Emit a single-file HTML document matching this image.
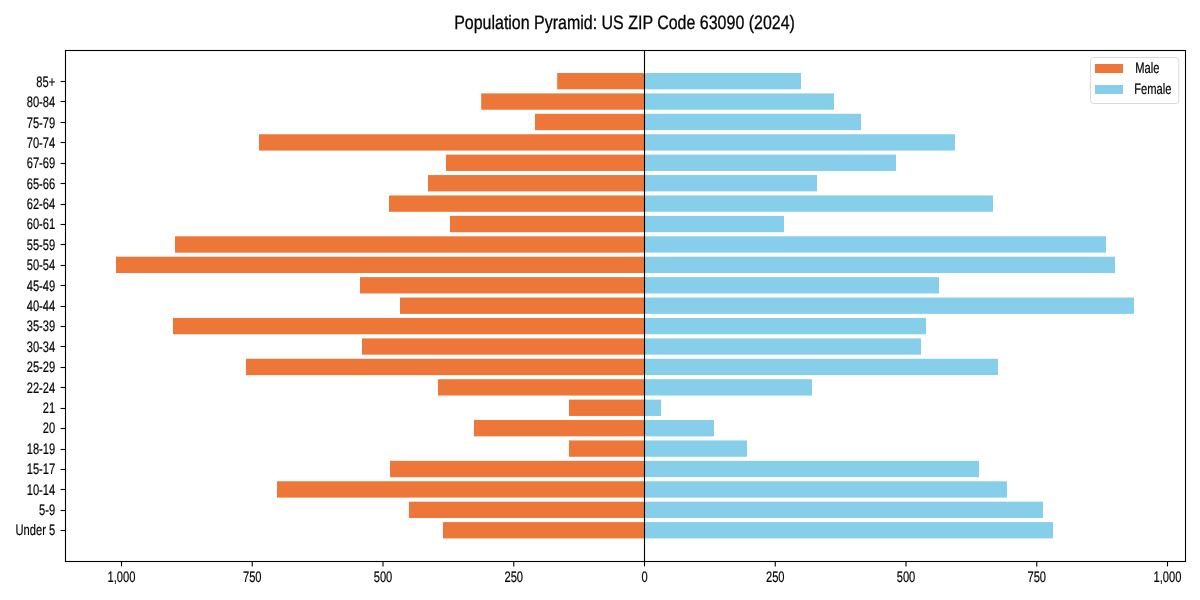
<!DOCTYPE html>
<html><head><meta charset="utf-8"><style>
html,body{margin:0;padding:0;background:#fff;width:1200px;height:600px;overflow:hidden}
svg{display:block;will-change:transform}
text{font-family:"Liberation Sans",sans-serif;font-size:15.2px;fill:#000;stroke:#000;stroke-width:0.2px;text-rendering:geometricPrecision}
</style></head><body>
<svg width="1200" height="600" viewBox="0 0 1200 600">
<rect x="443.00" y="522.09" width="201.50" height="16.33" fill="#EC7739"/>
<rect x="644.50" y="522.09" width="408.50" height="16.33" fill="#87CEEB"/>
<rect x="409.00" y="501.68" width="235.50" height="16.33" fill="#EC7739"/>
<rect x="644.50" y="501.68" width="398.50" height="16.33" fill="#87CEEB"/>
<rect x="277.00" y="481.27" width="367.50" height="16.33" fill="#EC7739"/>
<rect x="644.50" y="481.27" width="362.50" height="16.33" fill="#87CEEB"/>
<rect x="390.00" y="460.85" width="254.50" height="16.33" fill="#EC7739"/>
<rect x="644.50" y="460.85" width="334.50" height="16.33" fill="#87CEEB"/>
<rect x="569.00" y="440.44" width="75.50" height="16.33" fill="#EC7739"/>
<rect x="644.50" y="440.44" width="102.50" height="16.33" fill="#87CEEB"/>
<rect x="474.00" y="420.02" width="170.50" height="16.33" fill="#EC7739"/>
<rect x="644.50" y="420.02" width="69.50" height="16.33" fill="#87CEEB"/>
<rect x="569.00" y="399.61" width="75.50" height="16.33" fill="#EC7739"/>
<rect x="644.50" y="399.61" width="16.50" height="16.33" fill="#87CEEB"/>
<rect x="438.00" y="379.20" width="206.50" height="16.33" fill="#EC7739"/>
<rect x="644.50" y="379.20" width="167.50" height="16.33" fill="#87CEEB"/>
<rect x="246.00" y="358.78" width="398.50" height="16.33" fill="#EC7739"/>
<rect x="644.50" y="358.78" width="353.50" height="16.33" fill="#87CEEB"/>
<rect x="362.00" y="338.37" width="282.50" height="16.33" fill="#EC7739"/>
<rect x="644.50" y="338.37" width="276.50" height="16.33" fill="#87CEEB"/>
<rect x="173.00" y="317.95" width="471.50" height="16.33" fill="#EC7739"/>
<rect x="644.50" y="317.95" width="281.50" height="16.33" fill="#87CEEB"/>
<rect x="400.00" y="297.54" width="244.50" height="16.33" fill="#EC7739"/>
<rect x="644.50" y="297.54" width="489.50" height="16.33" fill="#87CEEB"/>
<rect x="360.00" y="277.13" width="284.50" height="16.33" fill="#EC7739"/>
<rect x="644.50" y="277.13" width="294.50" height="16.33" fill="#87CEEB"/>
<rect x="116.00" y="256.71" width="528.50" height="16.33" fill="#EC7739"/>
<rect x="644.50" y="256.71" width="470.50" height="16.33" fill="#87CEEB"/>
<rect x="175.00" y="236.30" width="469.50" height="16.33" fill="#EC7739"/>
<rect x="644.50" y="236.30" width="461.50" height="16.33" fill="#87CEEB"/>
<rect x="450.00" y="215.88" width="194.50" height="16.33" fill="#EC7739"/>
<rect x="644.50" y="215.88" width="139.50" height="16.33" fill="#87CEEB"/>
<rect x="389.00" y="195.47" width="255.50" height="16.33" fill="#EC7739"/>
<rect x="644.50" y="195.47" width="348.50" height="16.33" fill="#87CEEB"/>
<rect x="428.00" y="175.06" width="216.50" height="16.33" fill="#EC7739"/>
<rect x="644.50" y="175.06" width="172.50" height="16.33" fill="#87CEEB"/>
<rect x="446.00" y="154.64" width="198.50" height="16.33" fill="#EC7739"/>
<rect x="644.50" y="154.64" width="251.50" height="16.33" fill="#87CEEB"/>
<rect x="259.00" y="134.23" width="385.50" height="16.33" fill="#EC7739"/>
<rect x="644.50" y="134.23" width="310.50" height="16.33" fill="#87CEEB"/>
<rect x="535.00" y="113.81" width="109.50" height="16.33" fill="#EC7739"/>
<rect x="644.50" y="113.81" width="216.50" height="16.33" fill="#87CEEB"/>
<rect x="481.20" y="93.40" width="163.30" height="16.33" fill="#EC7739"/>
<rect x="644.50" y="93.40" width="189.50" height="16.33" fill="#87CEEB"/>
<rect x="557.20" y="72.99" width="87.30" height="16.33" fill="#EC7739"/>
<rect x="644.50" y="72.99" width="156.50" height="16.33" fill="#87CEEB"/>
<line x1="644.5" y1="50.5" x2="644.5" y2="561.5" stroke="#000" stroke-width="1.1"/>
<rect x="65.5" y="50.5" width="1120.0" height="511.0" fill="none" stroke="#000" stroke-width="1.1"/>
<line x1="60.60" y1="530.50" x2="65.5" y2="530.50" stroke="#000" stroke-width="1.1"/>
<text transform="translate(55.2 535.36) scale(0.733 1)" text-anchor="end">Under 5</text>
<line x1="60.60" y1="510.50" x2="65.5" y2="510.50" stroke="#000" stroke-width="1.1"/>
<text transform="translate(55.2 514.95) scale(0.733 1)" text-anchor="end">5-9</text>
<line x1="60.60" y1="489.50" x2="65.5" y2="489.50" stroke="#000" stroke-width="1.1"/>
<text transform="translate(55.2 494.53) scale(0.733 1)" text-anchor="end">10-14</text>
<line x1="60.60" y1="469.50" x2="65.5" y2="469.50" stroke="#000" stroke-width="1.1"/>
<text transform="translate(55.2 474.12) scale(0.733 1)" text-anchor="end">15-17</text>
<line x1="60.60" y1="449.50" x2="65.5" y2="449.50" stroke="#000" stroke-width="1.1"/>
<text transform="translate(55.2 453.70) scale(0.733 1)" text-anchor="end">18-19</text>
<line x1="60.60" y1="428.50" x2="65.5" y2="428.50" stroke="#000" stroke-width="1.1"/>
<text transform="translate(55.2 433.29) scale(0.733 1)" text-anchor="end">20</text>
<line x1="60.60" y1="408.50" x2="65.5" y2="408.50" stroke="#000" stroke-width="1.1"/>
<text transform="translate(55.2 412.88) scale(0.733 1)" text-anchor="end">21</text>
<line x1="60.60" y1="387.50" x2="65.5" y2="387.50" stroke="#000" stroke-width="1.1"/>
<text transform="translate(55.2 393.26) scale(0.733 1)" text-anchor="end">22-24</text>
<line x1="60.60" y1="367.50" x2="65.5" y2="367.50" stroke="#000" stroke-width="1.1"/>
<text transform="translate(55.2 372.05) scale(0.733 1)" text-anchor="end">25-29</text>
<line x1="60.60" y1="346.50" x2="65.5" y2="346.50" stroke="#000" stroke-width="1.1"/>
<text transform="translate(55.2 351.63) scale(0.733 1)" text-anchor="end">30-34</text>
<line x1="60.60" y1="326.50" x2="65.5" y2="326.50" stroke="#000" stroke-width="1.1"/>
<text transform="translate(55.2 331.22) scale(0.733 1)" text-anchor="end">35-39</text>
<line x1="60.60" y1="306.50" x2="65.5" y2="306.50" stroke="#000" stroke-width="1.1"/>
<text transform="translate(55.2 310.81) scale(0.733 1)" text-anchor="end">40-44</text>
<line x1="60.60" y1="285.50" x2="65.5" y2="285.50" stroke="#000" stroke-width="1.1"/>
<text transform="translate(55.2 291.39) scale(0.733 1)" text-anchor="end">45-49</text>
<line x1="60.60" y1="265.50" x2="65.5" y2="265.50" stroke="#000" stroke-width="1.1"/>
<text transform="translate(55.2 269.98) scale(0.733 1)" text-anchor="end">50-54</text>
<line x1="60.60" y1="244.50" x2="65.5" y2="244.50" stroke="#000" stroke-width="1.1"/>
<text transform="translate(55.2 249.56) scale(0.733 1)" text-anchor="end">55-59</text>
<line x1="60.60" y1="224.50" x2="65.5" y2="224.50" stroke="#000" stroke-width="1.1"/>
<text transform="translate(55.2 229.15) scale(0.733 1)" text-anchor="end">60-61</text>
<line x1="60.60" y1="204.50" x2="65.5" y2="204.50" stroke="#000" stroke-width="1.1"/>
<text transform="translate(55.2 208.74) scale(0.733 1)" text-anchor="end">62-64</text>
<line x1="60.60" y1="183.50" x2="65.5" y2="183.50" stroke="#000" stroke-width="1.1"/>
<text transform="translate(55.2 188.82) scale(0.733 1)" text-anchor="end">65-66</text>
<line x1="60.60" y1="163.50" x2="65.5" y2="163.50" stroke="#000" stroke-width="1.1"/>
<text transform="translate(55.2 167.91) scale(0.733 1)" text-anchor="end">67-69</text>
<line x1="60.60" y1="142.50" x2="65.5" y2="142.50" stroke="#000" stroke-width="1.1"/>
<text transform="translate(55.2 148.49) scale(0.733 1)" text-anchor="end">70-74</text>
<line x1="60.60" y1="122.50" x2="65.5" y2="122.50" stroke="#000" stroke-width="1.1"/>
<text transform="translate(55.2 128.08) scale(0.733 1)" text-anchor="end">75-79</text>
<line x1="60.60" y1="101.50" x2="65.5" y2="101.50" stroke="#000" stroke-width="1.1"/>
<text transform="translate(55.2 106.67) scale(0.733 1)" text-anchor="end">80-84</text>
<line x1="60.60" y1="81.50" x2="65.5" y2="81.50" stroke="#000" stroke-width="1.1"/>
<text transform="translate(55.2 86.95) scale(0.733 1)" text-anchor="end">85+</text>
<line x1="121.50" y1="561.5" x2="121.50" y2="566.40" stroke="#000" stroke-width="1.1"/>
<text transform="translate(121.50 582) scale(0.733 1)" text-anchor="middle">1,000</text>
<line x1="252.25" y1="561.5" x2="252.25" y2="566.40" stroke="#000" stroke-width="1.1"/>
<text transform="translate(252.25 582) scale(0.733 1)" text-anchor="middle">750</text>
<line x1="383.00" y1="561.5" x2="383.00" y2="566.40" stroke="#000" stroke-width="1.1"/>
<text transform="translate(383.00 582) scale(0.733 1)" text-anchor="middle">500</text>
<line x1="513.75" y1="561.5" x2="513.75" y2="566.40" stroke="#000" stroke-width="1.1"/>
<text transform="translate(513.75 582) scale(0.733 1)" text-anchor="middle">250</text>
<line x1="644.50" y1="561.5" x2="644.50" y2="566.40" stroke="#000" stroke-width="1.1"/>
<text transform="translate(644.50 582) scale(0.733 1)" text-anchor="middle">0</text>
<line x1="775.25" y1="561.5" x2="775.25" y2="566.40" stroke="#000" stroke-width="1.1"/>
<text transform="translate(775.25 582) scale(0.733 1)" text-anchor="middle">250</text>
<line x1="906.00" y1="561.5" x2="906.00" y2="566.40" stroke="#000" stroke-width="1.1"/>
<text transform="translate(906.00 582) scale(0.733 1)" text-anchor="middle">500</text>
<line x1="1036.75" y1="561.5" x2="1036.75" y2="566.40" stroke="#000" stroke-width="1.1"/>
<text transform="translate(1036.75 582) scale(0.733 1)" text-anchor="middle">750</text>
<line x1="1167.50" y1="561.5" x2="1167.50" y2="566.40" stroke="#000" stroke-width="1.1"/>
<text transform="translate(1167.50 582) scale(0.733 1)" text-anchor="middle">1,000</text>
<text transform="translate(624.5 28.7) scale(0.824 1)" text-anchor="middle" style="font-size:19.4px;stroke:#000;stroke-width:0.3px">Population Pyramid: US ZIP Code 63090 (2024)</text>
<rect x="1090.5" y="57.5" width="88.3" height="46" rx="3" fill="#fff" fill-opacity="0.8" stroke="#d9d9d9" stroke-width="1"/>
<rect x="1095" y="64" width="28" height="9" fill="#EC7739"/>
<rect x="1095" y="85" width="28" height="9" fill="#87CEEB"/>
<text transform="translate(1135.3 72.6) scale(0.733 1)">Male</text>
<text transform="translate(1134.3 93.6) scale(0.733 1)">Female</text>
</svg>
</body></html>
